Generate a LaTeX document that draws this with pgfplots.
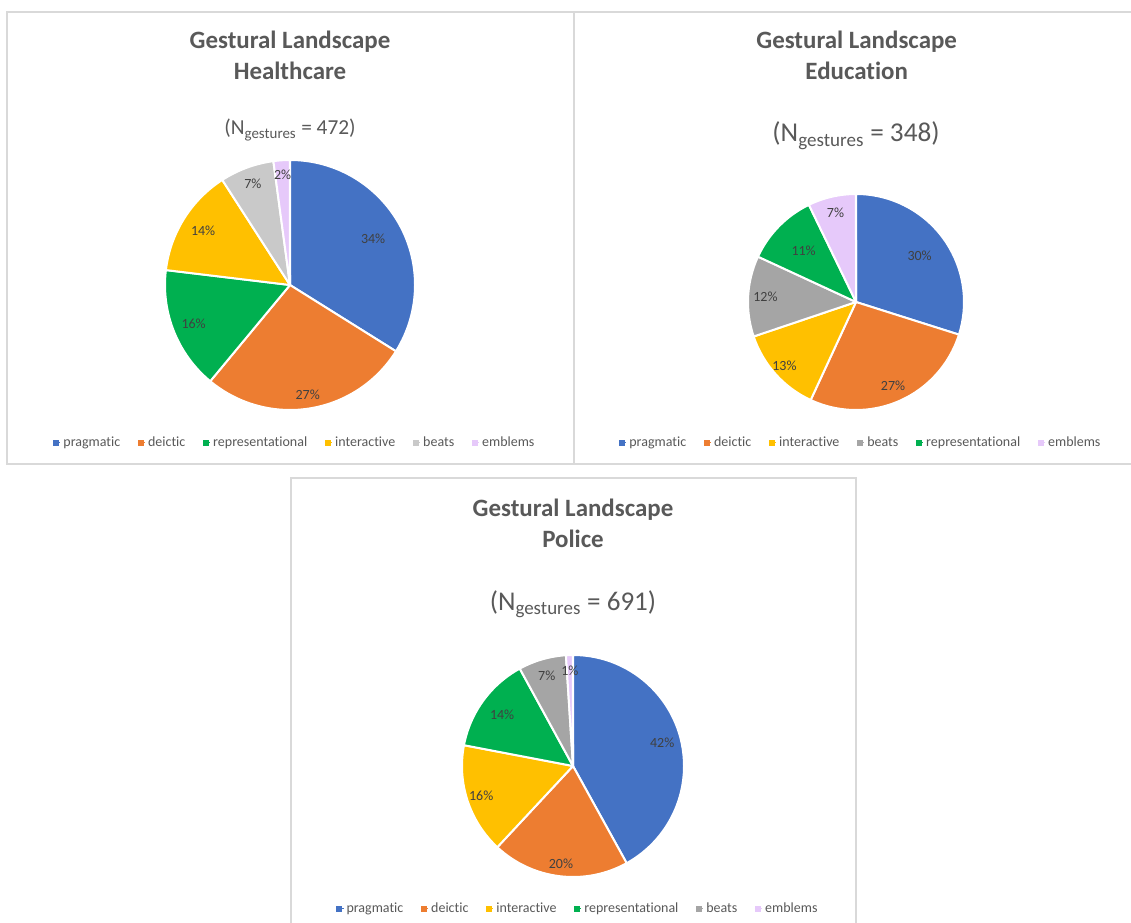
\documentclass[border=0pt]{standalone}
\usepackage{pgfplots}
\pgfplotsset{compat=1.18}
\usepackage{pgfplotstable}
\usepackage{fontspec}
\setmainfont{Carlito}[Ligatures=NoCommon]

\definecolor{cBlue}{HTML}{4472C4}
\definecolor{cOrange}{HTML}{ED7D31}
\definecolor{cGreen}{HTML}{00B050}
\definecolor{cYellow}{HTML}{FFC000}
\definecolor{cGrayL}{HTML}{C9C9C9}
\definecolor{cGray}{HTML}{A5A5A5}
\definecolor{cPurple}{HTML}{E6C9FA}
\definecolor{cTitle}{HTML}{595959}
\definecolor{cLabel}{HTML}{404040}
\definecolor{cBorder}{HTML}{D9D9D9}

% counts per category (slice order = clockwise from 12 o'clock), colour, label radius
\pgfplotstableread{
name n col lr
pragmatic 160 cBlue 0.76
deictic 128 cOrange 0.89
representational 75 cGreen 0.83
interactive 66 cYellow 0.82
beats 33 cGrayL 0.86
emblems 10 cPurple 0.88
}\tblH
\pgfplotstableread{
name n col lr
pragmatic 104 cBlue 0.73
deictic 94 cOrange 0.85
interactive 45 cYellow 0.89
beats 42 cGray 0.84
representational 38 cGreen 0.68
emblems 25 cPurple 0.85
}\tblE
\pgfplotstableread{
name n col lr
pragmatic 290 cBlue 0.83
deictic 138 cOrange 0.89
interactive 111 cYellow 0.87
representational 97 cGreen 0.79
beats 48 cGray 0.85
emblems 7 cPurple 0.86
}\tblP

\tikzset{pctlabel/.style={font=\fontsize{10.5}{12}\selectfont, text=cLabel, inner sep=0pt}}

\newcommand{\drawpie}[3]{% #1 table, #2 total, #3 radius
  \pgfplotstablegetrowsof{#1}%
  \pgfmathtruncatemacro{\lastrow}{\pgfplotsretval-1}%
  \xdef\cumang{90}%
  \gdef\labelcmds{}%
  \foreach \i in {0,...,\lastrow}{%
    \pgfplotstablegetelem{\i}{n}\of{#1}\let\val\pgfplotsretval
    \pgfplotstablegetelem{\i}{col}\of{#1}\let\col\pgfplotsretval
    \pgfplotstablegetelem{\i}{lr}\of{#1}\let\lr\pgfplotsretval
    \pgfmathsetmacro{\frac}{\val/#2}%
    \pgfmathsetmacro{\endang}{\cumang-360*\frac}%
    \pgfmathsetmacro{\midang}{(\cumang+\endang)/2}%
    \pgfmathtruncatemacro{\pct}{round(100*\frac)}%
    \pgfmathsetmacro{\lx}{\lr*cos(\midang)}%
    \pgfmathsetmacro{\ly}{\lr*sin(\midang)}%
    \pgfmathsetmacro{\sx}{cos(\cumang)}%
    \pgfmathsetmacro{\sy}{sin(\cumang)}%
    \edef\temp{\noexpand\filldraw[fill=\col, draw=white, line width=1.5pt, line join=round] (axis cs:0,0) -- (axis cs:\sx,\sy) arc[start angle=\cumang, end angle=\endang, radius=#3] -- cycle;}%
    \temp
    \xdef\labelcmds{\unexpanded\expandafter{\labelcmds}\noexpand\node[pctlabel] at (axis cs:\lx,\ly) {\pct\noexpand\%};}%
    \xdef\cumang{\endang}%
  }%
  \labelcmds
}

\pgfplotsset{
  pieaxis/.style={
    hide axis, clip=false,
    xmin=-1, xmax=1, ymin=-1, ymax=1,
    anchor=origin,
    legend columns=-1,
    legend cell align=left,
    legend style={draw=none, fill=none, anchor=center,
      font=\fontsize{10.5}{12}\selectfont, text=cTitle,
      /tikz/every even column/.append style={column sep=11pt}},
    legend image code/.code={\fill[##1] (0pt,-1.9pt) rectangle (3.8pt,1.9pt); \path (0pt,0pt) -- (5.5pt,0pt);},
  }
}

\begin{document}
\begin{tikzpicture}
\path[use as bounding box, fill=white] (0pt,0pt) rectangle (848.25pt,-692.25pt);

% panel borders
\draw[cBorder, line width=1.2pt] (5.25pt,-9pt) rectangle (430.5pt,-348pt);
\draw[cBorder, line width=1.2pt] (848.25pt,-9pt) -- (430.5pt,-9pt) -- (430.5pt,-348pt) -- (848.25pt,-348pt);
\draw[cBorder, line width=1.2pt] (218.25pt,-692.25pt) -- (218.25pt,-358.5pt) -- (642pt,-358.5pt) -- (642pt,-692.25pt);

% titles
\begin{scope}[every node/.style={text=cTitle, anchor=base, inner sep=0pt}]
\node[font=\bfseries\fontsize{18.7}{22}\selectfont] at (217.5pt,-36.75pt) {Gestural Landscape};
\node[font=\bfseries\fontsize{18.7}{22}\selectfont] at (217.5pt,-60pt) {Healthcare};
\node[font=\fontsize{16}{19}\selectfont] at (217.5pt,-101.25pt) {(N\textsubscript{gestures} = 472)};

\node[font=\bfseries\fontsize{18.7}{22}\selectfont] at (642.5pt,-36.75pt) {Gestural Landscape};
\node[font=\bfseries\fontsize{18.7}{22}\selectfont] at (642.5pt,-60pt) {Education};
\node[font=\fontsize{20.4}{24}\selectfont] at (642pt,-106.5pt) {(N\textsubscript{gestures} = 348)};

\node[font=\bfseries\fontsize{18.7}{22}\selectfont] at (429.75pt,-387pt) {Gestural Landscape};
\node[font=\bfseries\fontsize{18.7}{22}\selectfont] at (429.75pt,-410.25pt) {Police};
\node[font=\fontsize{20.3}{24}\selectfont] at (429.75pt,-457.5pt) {(N\textsubscript{gestures} = 691)};
\end{scope}

% Healthcare
\begin{axis}[pieaxis, x=93.75pt, y=93.75pt, at={(217.5pt,-213.75pt)},
  legend style={at={(0.52,-0.130)}}]
\drawpie{\tblH}{472}{93.75pt}
\addlegendimage{cBlue}\addlegendentry{pragmatic}
\addlegendimage{cOrange}\addlegendentry{deictic}
\addlegendimage{cGreen}\addlegendentry{representational}
\addlegendimage{cYellow}\addlegendentry{interactive}
\addlegendimage{cGrayL}\addlegendentry{beats}
\addlegendimage{cPurple}\addlegendentry{emblems}
\end{axis}

% Education
\begin{axis}[pieaxis, x=81pt, y=81pt, at={(642pt,-226.5pt)},
  legend style={at={(0.523,-0.150)}}]
\drawpie{\tblE}{348}{81pt}
\addlegendimage{cBlue}\addlegendentry{pragmatic}
\addlegendimage{cOrange}\addlegendentry{deictic}
\addlegendimage{cYellow}\addlegendentry{interactive}
\addlegendimage{cGray}\addlegendentry{beats}
\addlegendimage{cGreen}\addlegendentry{representational}
\addlegendimage{cPurple}\addlegendentry{emblems}
\end{axis}

% Police
\begin{axis}[pieaxis, x=83.25pt, y=83.25pt, at={(429.75pt,-574.5pt)},
  legend style={at={(0.523,-0.143)}}]
\drawpie{\tblP}{691}{83.25pt}
\addlegendimage{cBlue}\addlegendentry{pragmatic}
\addlegendimage{cOrange}\addlegendentry{deictic}
\addlegendimage{cYellow}\addlegendentry{interactive}
\addlegendimage{cGreen}\addlegendentry{representational}
\addlegendimage{cGray}\addlegendentry{beats}
\addlegendimage{cPurple}\addlegendentry{emblems}
\end{axis}
\end{tikzpicture}
\end{document}
